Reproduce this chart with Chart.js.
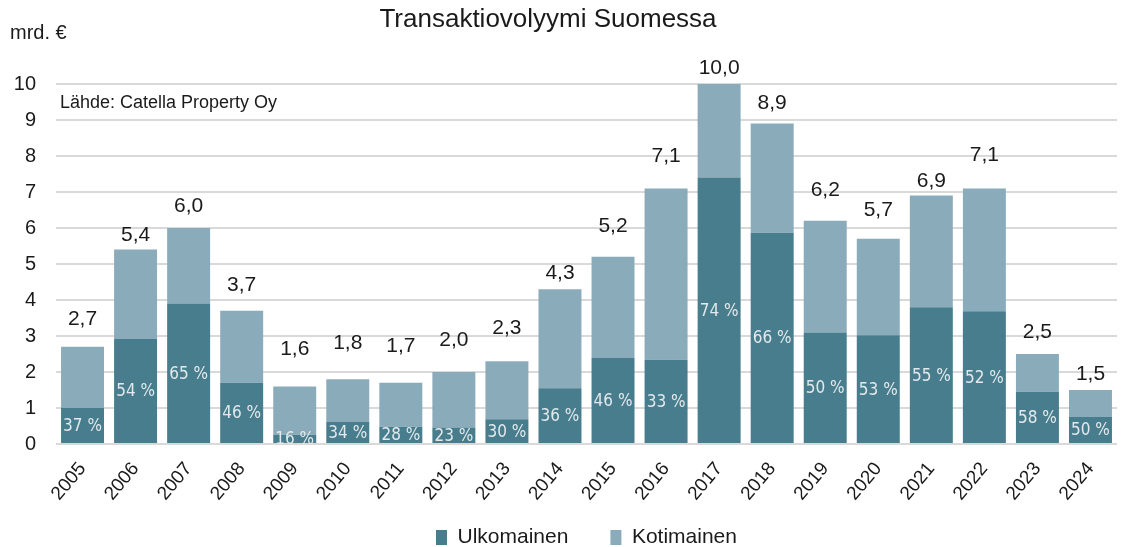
<!DOCTYPE html>
<html>
<head>
<meta charset="utf-8">
<script src="https://cdn.jsdelivr.net/npm/chart.js@4.4.1/dist/chart.umd.min.js"></script>
<style>
  html, body { margin: 0; padding: 0; background: #ffffff; }
  #wrap { width: 1127px; height: 547px; position: relative; }
</style>
</head>
<body>
<div id="wrap"><canvas id="chart"></canvas></div>
<script>
// --- DATA ---
const years = ['2005', '2006', '2007', '2008', '2009', '2010', '2011', '2012', '2013', '2014',
               '2015', '2016', '2017', '2018', '2019', '2020', '2021', '2022', '2023', '2024'];
const ulkomainen = [1.0, 2.92, 3.9, 1.7, 0.26, 0.61, 0.48, 0.46, 0.69, 1.55,
                    2.39, 2.34, 7.4, 5.87, 3.1, 3.02, 3.8, 3.69, 1.45, 0.75];
const kotimainen = [1.7, 2.48, 2.1, 2.0, 1.34, 1.19, 1.22, 1.54, 1.61, 2.75,
                    2.81, 4.76, 2.6, 3.03, 3.1, 2.68, 3.1, 3.41, 1.05, 0.75];
const totalLabels = ['2,7', '5,4', '6,0', '3,7', '1,6', '1,8', '1,7', '2,0', '2,3', '4,3',
                     '5,2', '7,1', '10,0', '8,9', '6,2', '5,7', '6,9', '7,1', '2,5', '1,5'];
const shareLabels = ['37 %', '54 %', '65 %', '46 %', '16 %', '34 %', '28 %', '23 %', '30 %', '36 %',
                     '46 %', '33 %', '74 %', '66 %', '50 %', '53 %', '55 %', '52 %', '58 %', '50 %'];
const yTicks = [0, 1, 2, 3, 4, 5, 6, 7, 8, 9, 10];

// --- STYLE ---
const DARK = '#477d8c';
const LIGHT = '#8aabb9';
const TEXT = '#1a1a1a';
const GRID = '#d9d9d9';
const FONT = '"Liberation Sans", Arial, sans-serif';
const NARROW = '"Liberation Sans Narrow", "DejaVu Sans Condensed", sans-serif';
// how far above each stack its total sits (px), as placed in the original
const labelLift = [28, 14, 22, 26, 37, 36, 37, 32, 33, 16, 31, 32, 16, 20, 31, 29, 14, 33, 22, 16];
const LEGEND_SHIFT = 28; // the original legend sits a bit right of centre

const annotations = {
  id: 'annotations',
  afterLayout(chart) {
    chart.legend.left += LEGEND_SHIFT;
    chart.legend.right += LEGEND_SHIFT;
    // let the rotated year labels run into the legend band without being clipped
    chart.scales.x.bottom = chart.height;
  },
  afterDatasetsDraw(chart) {
    const { ctx, chartArea } = chart;
    const bottom = chart.getDatasetMeta(0).data;
    const top = chart.getDatasetMeta(1).data;

    // share of foreign buyers inside the dark segment
    ctx.save();
    ctx.beginPath();
    ctx.rect(chartArea.left, chartArea.top, chartArea.right - chartArea.left, chartArea.bottom - chartArea.top);
    ctx.clip();
    ctx.font = '17px ' + NARROW;
    ctx.fillStyle = '#e3e9ec';
    ctx.textAlign = 'center';
    ctx.textBaseline = 'middle';
    bottom.forEach((bar, i) => {
      ctx.fillText(shareLabels[i], bar.x, (bar.y + bar.base) / 2 + 1);
    });
    ctx.restore();

    // totals above the stacks
    ctx.save();
    ctx.font = '21px ' + FONT;
    ctx.fillStyle = TEXT;
    ctx.textAlign = 'center';
    ctx.textBaseline = 'middle';
    top.forEach((bar, i) => {
      ctx.fillText(totalLabels[i], bar.x, bar.y - labelLift[i]);
    });
    ctx.restore();
  },
  afterDraw(chart) {
    const { ctx } = chart;
    ctx.save();
    ctx.fillStyle = TEXT;
    ctx.textBaseline = 'middle';
    ctx.textAlign = 'center';
    ctx.font = '26px ' + FONT;
    ctx.fillText('Transaktiovolyymi Suomessa', 548, 20);
    ctx.textAlign = 'left';
    ctx.font = '20px ' + FONT;
    ctx.fillText('mrd. €', 10, 33);
    ctx.font = '18px ' + FONT;
    ctx.fillText('Lähde: Catella Property Oy', 60, 103);
    ctx.restore();
  }
};

new Chart(document.getElementById('chart'), {
  type: 'bar',
  data: {
    labels: years,
    datasets: [
      { label: 'Ulkomainen', data: ulkomainen, backgroundColor: DARK },
      { label: 'Kotimainen', data: kotimainen, backgroundColor: LIGHT }
    ]
  },
  options: {
    responsive: true,
    maintainAspectRatio: false,
    animation: false,
    layout: { padding: { top: 84, right: 10, left: 0, bottom: -11 } },
    datasets: { bar: { barPercentage: 0.81, categoryPercentage: 1 } },
    scales: {
      x: {
        stacked: true,
        grid: { display: false },
        border: { display: false },
        ticks: {
          color: TEXT,
          font: { family: FONT, size: 19 },
          minRotation: 50,
          maxRotation: 50,
          padding: 6
        },
        afterFit: (scale) => { scale.height = 41; }
      },
      y: {
        stacked: true,
        min: 0,
        max: 10,
        afterBuildTicks: (scale) => { scale.ticks = yTicks.map(v => ({ value: v })); },
        grid: { color: GRID, lineWidth: 2, drawTicks: false },
        border: { display: false },
        ticks: {
          color: TEXT,
          font: { family: FONT, size: 20 },
          padding: 20
        },
        afterFit: (scale) => { scale.width = 56; }
      }
    },
    plugins: {
      legend: {
        position: 'bottom',
        labels: {
          color: TEXT,
          font: { family: FONT, size: 21 },
          boxWidth: 11,
          boxHeight: 15,
          padding: 42
        }
      },
      tooltip: { enabled: false }
    }
  },
  plugins: [annotations]
});
</script>
</body>
</html>
